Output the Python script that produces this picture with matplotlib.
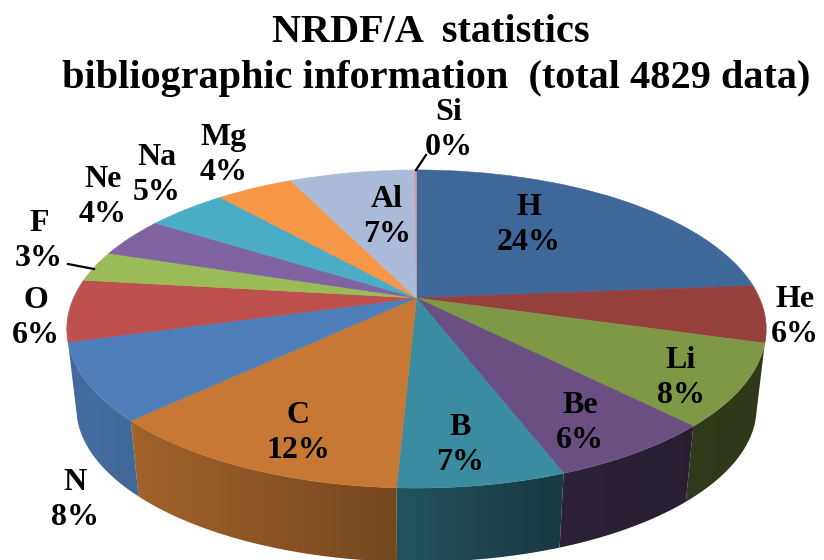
import numpy as np
import matplotlib
matplotlib.use("Agg")
import matplotlib.pyplot as plt
from matplotlib.patches import Polygon
from matplotlib.transforms import Transform

elements = ["H", "He", "Li", "Be", "B", "C", "N", "O", "F", "Ne", "Na", "Mg", "Al", "Si"]
shares = [23.7, 5.8, 8.3, 6.5, 6.45, 12.05, 7.8, 6.3, 3.1, 4.1, 4.5, 4.3, 7.0, 0.1]
percent_labels = ["24%", "6%", "8%", "6%", "7%", "12%", "8%", "6%", "3%", "4%", "5%", "4%", "7%", "0%"]
title_text = "NRDF/A  statistics\n bibliographic information  (total 4829 data)"

top_colors = ["#3E689A", "#96403E", "#7E9846", "#6A5082", "#3B8CA0", "#C67834", "#4F7FBA",
              "#BE504D", "#9BBB59", "#8064A2", "#4BACC6", "#F79646", "#AABAD7", "#D99694"]
wall_elements = ["Li", "Be", "B", "C", "N"]
label_pos = [(529, 225), (795, 317), (681, 378), (580, 423), (460, 445), (298, 433), (75, 500),
             (36, 318), (39, 241), (103, 197), (157, 175), (224, 155), (387, 217), (449, 130)]

CX, CY, A, B, K = 416.5, 298.0, 343.0, 153.0, 0.195
SHRINK, DROP = 0.973, 79.0


class Perspective(Transform):
    input_dims = output_dims = 2
    is_separable = False
    has_inverse = False

    def transform_non_affine(self, xy):
        xy = np.asarray(xy, float)
        w = 1 + K * xy[:, 1]
        return np.column_stack([CX + A * xy[:, 0] / w, CY - B * xy[:, 1] / w])


fig = plt.figure(figsize=(8.24, 5.6), dpi=100)
ax = fig.add_axes([0, 0, 1, 1])
persp = Perspective()

wedges, _ = ax.pie(shares, colors=top_colors, startangle=90, counterclock=False,
                   wedgeprops=dict(linewidth=0.4))
for w, c in zip(wedges, top_colors):
    w.set_edgecolor(c)
    w.set_transform(persp + ax.transData)
    w.set_zorder(3)

# side wall, shaded from left to right
for name, w, c in zip(elements, wedges, top_colors):
    if name not in wall_elements:
        continue
    t = np.radians(np.linspace(w.theta1, w.theta2, 60))
    rim = persp.transform_non_affine(np.column_stack([np.cos(t), np.sin(t)]))
    low = np.column_stack([CX + SHRINK * (rim[:, 0] - CX), CY + SHRINK * (rim[:, 1] - CY) + DROP])
    poly = np.vstack([rim, low[::-1]])
    x0, x1 = poly[:, 0].min(), poly[:, 0].max()
    y0, y1 = poly[:, 1].min(), poly[:, 1].max()
    xs = np.linspace(x0, x1, 128)
    shade = np.interp(xs, [100, 150, 390, 540, 620, 720], [.85, .80, .60, .43, .40, .38])
    rgb = np.array(matplotlib.colors.to_rgb(c))
    img = (shade[:, None] * rgb)[None, :, :]
    im = ax.imshow(img, extent=(x0, x1, y1, y0), aspect="auto", zorder=2, interpolation="bilinear")
    clip = Polygon(poly, closed=True, transform=ax.transData)
    im.set_clip_path(clip)

ax.set_aspect("auto")
ax.set_xlim(0, 824)
ax.set_ylim(560, 0)
ax.axis("off")

serif = "Liberation Serif"
for name, pct, (x, y) in zip(elements, percent_labels, label_pos):
    ax.text(x, y, f"{name}\n{pct}", ha="center", va="center", family=serif, weight="bold",
            fontsize=23, linespacing=1.28, color="black", zorder=5)

ax.text(431, 55.5, title_text, ha="center", va="center", family=serif, weight="bold",
        fontsize=29, linespacing=1.32, color="black", zorder=5)

ax.plot([68, 94], [264, 269], color="black", lw=1.6, zorder=4)
ax.plot([416, 426], [170, 155], color="black", lw=1.6, zorder=4)

fig.savefig("out.png", dpi=100)
